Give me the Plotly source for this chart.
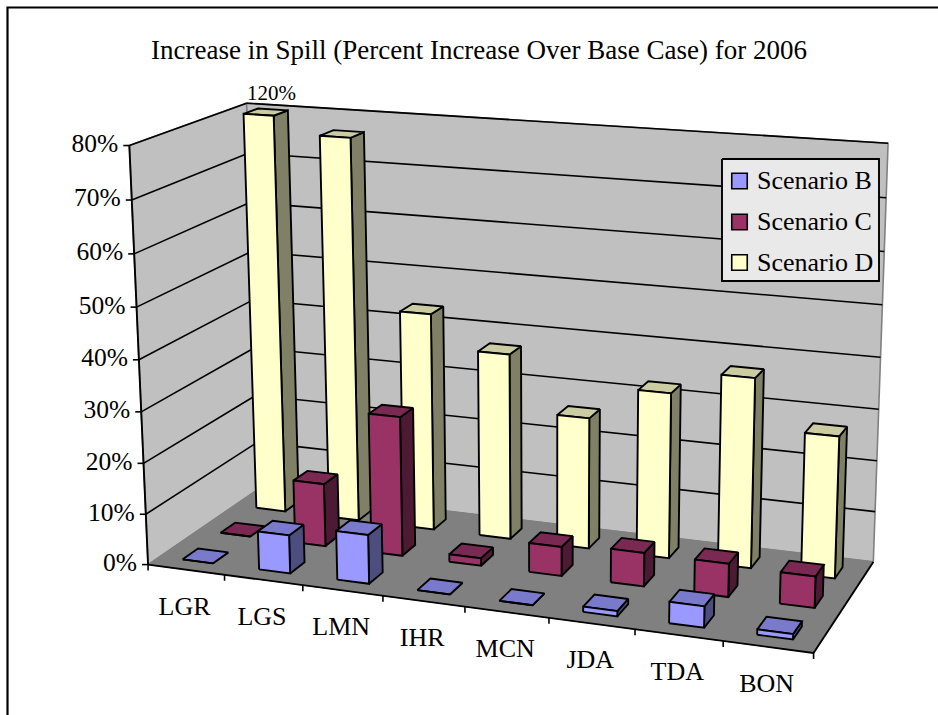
import numpy as np
import plotly.graph_objects as go

# ---- data (percent increase over base case) ----
stations = ["LGR", "LGS", "LMN", "IHR", "MCN", "JDA", "TDA", "BON"]
scenario_b = [0.0, 7.5, 9.5, 0.0, 0.0, 1.0, 4.0, 1.0]
scenario_c = [0.0, 12.5, 27.5, 1.5, 5.7, 6.5, 6.4, 6.0]
scenario_d = [120.0, 76.7, 43.5, 37.0, 26.0, 32.5, 37.0, 27.5]
value_ticks = [0, 10, 20, 30, 40, 50, 60, 70, 80]
legend_names = ["Scenario B", "Scenario C", "Scenario D"]
legend_colors = ["#9999FF", "#993366", "#FFFFCC"]
title_text = "Increase in Spill (Percent Increase Over Base Case) for 2006"
AXIS_MAX = 80.0

# ---- projection: chart box (category, depth, value) -> page ----
unit_cube = [(0, 0, 0), (1, 0, 0), (1, 1, 0), (0, 1, 0), (0, 0, 1), (0, 1, 1), (1, 1, 1)]
page_anchor = [(148, 565), (814, 652), (873, 563), (259, 488), (129, 146), (247, 103), (888, 143)]


def solve_camera():
    rows = []
    for (a, b, c), (u, v) in zip(unit_cube, page_anchor):
        rows.append([a, b, c, 1, 0, 0, 0, 0, -u * a, -u * b, -u * c, -u])
        rows.append([0, 0, 0, 0, a, b, c, 1, -v * a, -v * b, -v * c, -v])
    return np.linalg.svd(np.array(rows, float))[2][-1].reshape(3, 4)


CAM = solve_camera()


def proj(cat, depth, val):
    h = CAM @ np.array([cat / len(stations), depth, val / AXIS_MAX, 1.0])
    return h[0] / h[2], h[1] / h[2]


def poly(points):
    pts = [proj(*p) for p in points]
    pts.append(pts[0])
    return [p[0] for p in pts], [p[1] for p in pts]


fig = go.Figure()


def add_face(points, fill, line="black", width=1.9):
    x, y = poly(points)
    fig.add_trace(go.Scatter(x=x, y=y, mode="lines", fill="toself", fillcolor=fill,
                             line=dict(color=line, width=width), showlegend=False, hoverinfo="skip"))


def add_line(a, b, color="black", width=1.6):
    pa, pb = proj(*a), proj(*b)
    fig.add_trace(go.Scatter(x=[pa[0], pb[0]], y=[pa[1], pb[1]], mode="lines",
                             line=dict(color=color, width=width), showlegend=False, hoverinfo="skip"))


n = len(stations)
# walls and floor
add_face([(0, 0, 0), (0, 1, 0), (0, 1, AXIS_MAX), (0, 0, AXIS_MAX)], "#C0C0C0", "#808080", 1.6)
add_face([(0, 1, 0), (n, 1, 0), (n, 1, AXIS_MAX), (0, 1, AXIS_MAX)], "#C0C0C0", "#808080", 1.6)
add_face([(0, 0, 0), (n, 0, 0), (n, 1, 0), (0, 1, 0)], "#808080", "#808080", 1)

# gridlines
for v in value_ticks[1:]:
    add_line((0, 0, v), (0, 1, v))
    add_line((0, 1, v), (n, 1, v))

# axis lines
add_line((0, 0, 0), (0, 0, AXIS_MAX), width=1.9)
add_line((0, 0, 0), (n, 0, 0), width=1.9)
add_line((n, 0, 0), (n, 1, 0), width=1.9)

# tick marks
for v in value_ticks:
    x0, y0 = proj(0, 0, v)
    fig.add_trace(go.Scatter(x=[x0 - 6, x0], y=[y0, y0], mode="lines", line=dict(color="black", width=1.6),
                             showlegend=False, hoverinfo="skip"))
for c in range(n + 1):
    x0, y0 = proj(c, 0, 0)
    fig.add_trace(go.Scatter(x=[x0, x0], y=[y0, y0 + 6], mode="lines", line=dict(color="black", width=1.6),
                             showlegend=False, hoverinfo="skip"))

# bars
BAR_W = 0.4
BAR_D = 0.4 / 3
series = [
    (scenario_d, 2, "#FFFFCC", "#808066", "#CCCCA3"),
    (scenario_c, 1, "#993366", "#4D1A33", "#7A2952"),
    (scenario_b, 0, "#9999FF", "#4D4D80", "#7A7ACC"),
]
for vals, slot, front, side, top in series:
    d0 = (slot + 0.3) / 3
    d1 = d0 + BAR_D
    for c, raw in enumerate(vals):
        v = min(raw, AXIS_MAX)
        c0, c1 = c + 0.5 - BAR_W / 2, c + 0.5 + BAR_W / 2
        add_face([(c1, d0, 0), (c1, d1, 0), (c1, d1, v), (c1, d0, v)], side)
        add_face([(c0, d0, v), (c1, d0, v), (c1, d1, v), (c0, d1, v)], top)
        add_face([(c0, d0, 0), (c1, d0, 0), (c1, d0, v), (c0, d0, v)], front)

# labels
FONT = "Liberation Serif"
tx, ty = zip(*[proj(0, 0, v) for v in value_ticks])
fig.add_trace(go.Scatter(x=[a - 11 for a in tx], y=ty, mode="text", text=[f"{v}%" for v in value_ticks],
                         textposition="middle left", textfont=dict(family=FONT, size=25.5, color="black"),
                         showlegend=False, hoverinfo="skip"))
cx, cy = zip(*[proj(c + 0.5, 0, 0) for c in range(n)])
fig.add_trace(go.Scatter(x=[a - 1.5 for a in cx], y=[a + 38.5 for a in cy], mode="text", text=stations,
                         textposition="middle center", textfont=dict(family=FONT, size=26, color="black"),
                         showlegend=False, hoverinfo="skip"))
lx, ly = proj(0.5, 2.3 / 3, AXIS_MAX)
fig.add_trace(go.Scatter(x=[lx + 13], y=[ly - 20], mode="text", text=[f"{scenario_d[0]:.0f}%"],
                         textposition="middle center", textfont=dict(family=FONT, size=21, color="black"),
                         showlegend=False, hoverinfo="skip"))

# legend box, swatches and labels
fig.add_trace(go.Scatter(x=[722, 879, 879, 722, 722], y=[159, 159, 281, 281, 159], mode="lines", fill="toself",
                         fillcolor="#E9E9E9", line=dict(color="black", width=1.9),
                         showlegend=False, hoverinfo="skip"))
rows_y = [181, 222, 262.5]
fig.add_trace(go.Scatter(x=[739.5] * 3, y=rows_y, mode="markers",
                         marker=dict(symbol="square", size=15.5, color=legend_colors,
                                     line=dict(color="black", width=1.6)),
                         showlegend=False, hoverinfo="skip"))
fig.add_trace(go.Scatter(x=[757] * 3, y=[a + 1.5 for a in rows_y], mode="text", text=legend_names,
                         textposition="middle right", textfont=dict(family=FONT, size=26, color="black"),
                         showlegend=False, hoverinfo="skip"))

fig.update_layout(
    width=938, height=715, margin=dict(l=0, r=0, t=0, b=0),
    paper_bgcolor="white", plot_bgcolor="white", showlegend=False,
    xaxis=dict(range=[0, 938], visible=False, fixedrange=True),
    yaxis=dict(range=[715, 0], visible=False, fixedrange=True),
    font=dict(family=FONT, color="black"),
    title=dict(text=title_text, x=479 / 938, y=1 - 50 / 715, xanchor="center", yanchor="middle",
               font=dict(family=FONT, size=27)),
    shapes=[dict(type="rect", xref="x", yref="y", x0=7.5, x1=960, y0=7.5, y1=760,
                 line=dict(color="black", width=2.2), layer="above")],
)
fig.write_html("out.html", config=dict(displayModeBar=False),
               post_script="document.body.style.margin='0';document.body.style.overflow='hidden';")
